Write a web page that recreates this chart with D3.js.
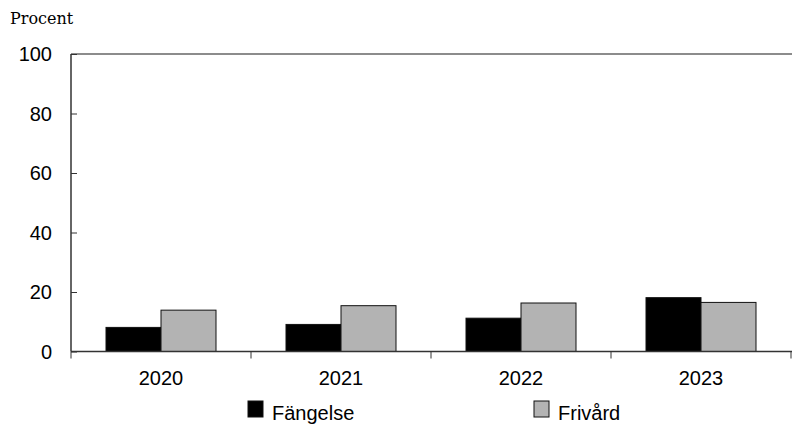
<!DOCTYPE html>
<html>
<head>
<meta charset="utf-8">
<script src="https://cdn.jsdelivr.net/npm/d3@7"></script>
<style>
  body { margin: 0; background: #fff; }
  svg text { font-family: "Liberation Sans", Arial, sans-serif; }
</style>
</head>
<body>
<div id="chart"></div>
<script>
// data
const years = ["2020", "2021", "2022", "2023"];
const fangelse = [8.1, 9.1, 11.2, 18.1];
const frivard = [13.9, 15.4, 16.3, 16.5];
const seriesNames = ["Fängelse", "Frivård"];
const seriesColors = ["#000000", "#b3b3b3"];
const yTicks = [0, 20, 40, 60, 80, 100];

const W = 792, H = 424;
const margin = { top: 54, right: 1, bottom: 72.5, left: 71 };
const width = W - margin.left - margin.right;
const height = H - margin.top - margin.bottom;

const svg = d3.select("#chart").append("svg")
    .attr("width", W)
    .attr("height", H);

const g = svg.append("g")
    .attr("transform", `translate(${margin.left}, ${margin.top})`);

const x0 = d3.scaleBand()
    .domain(years)
    .range([0, width])
    .paddingInner(0)
    .paddingOuter(0);

const x1 = d3.scaleBand()
    .domain(seriesNames)
    .range([x0.bandwidth() / 2 - 55, x0.bandwidth() / 2 + 55]);

const y = d3.scaleLinear()
    .domain([0, 100])
    .range([height, 0]);

// top border line
g.append("line")
    .attr("x1", 0).attr("x2", width + margin.right)
    .attr("y1", 0).attr("y2", 0)
    .attr("stroke", "#666").attr("stroke-width", 1.5);

// bars
const rows = years.map((yr, i) => ({ year: yr, values: [fangelse[i], frivard[i]] }));

const groups = g.selectAll(".grp")
    .data(rows)
    .enter().append("g")
    .attr("transform", d => `translate(${x0(d.year)}, 0)`);

groups.selectAll("rect")
    .data(d => d.values.map((v, j) => ({ name: seriesNames[j], value: v, color: seriesColors[j] })))
    .enter().append("rect")
    .attr("x", d => x1(d.name))
    .attr("y", d => y(d.value))
    .attr("width", x1.bandwidth())
    .attr("height", d => height - y(d.value))
    .attr("fill", d => d.color)
    .attr("stroke", "#111")
    .attr("stroke-width", 1);

// y axis
const yAxis = g.append("g")
    .call(d3.axisRight(y).tickValues(yTicks).tickSize(6).tickFormat(""));
yAxis.select(".domain").attr("stroke", "#333").attr("stroke-width", 1.5)
    .attr("d", `M0,${height}V0`);
yAxis.selectAll(".tick line").attr("stroke", "#333");

g.selectAll(".ylab")
    .data(yTicks)
    .enter().append("text")
    .attr("x", -19)
    .attr("y", d => y(d))
    .attr("dy", "0.36em")
    .attr("text-anchor", "end")
    .style("font-size", "20px")
    .attr("fill", "#000")
    .text(d => d);

// x axis
const xTickPos = years.map(yr => x0(yr)).concat([width]);
const xAxis = g.append("g").attr("transform", `translate(0, ${height})`);
xAxis.append("line")
    .attr("x1", 0).attr("x2", width + margin.right)
    .attr("y1", 0).attr("y2", 0)
    .attr("stroke", "#333").attr("stroke-width", 1.5);
xAxis.selectAll(".xt")
    .data(xTickPos)
    .enter().append("line")
    .attr("x1", d => d).attr("x2", d => d)
    .attr("y1", 0).attr("y2", 7)
    .attr("stroke", "#333");
xAxis.selectAll(".xlab")
    .data(years)
    .enter().append("text")
    .attr("x", d => x0(d) + x0.bandwidth() / 2)
    .attr("y", 33.5)
    .attr("text-anchor", "middle")
    .style("font-size", "20px")
    .attr("fill", "#000")
    .text(d => d);

// y title
svg.append("text")
    .attr("x", 10)
    .attr("y", 24)
    .style("font-family", "'DejaVu Serif', 'Liberation Serif', serif")
    .style("font-size", "16px")
    .attr("fill", "#000")
    .text("Procent");

// legend
const legendX = [248, 534];
const legend = svg.selectAll(".leg")
    .data(seriesNames)
    .enter().append("g")
    .attr("transform", (d, i) => `translate(${legendX[i]}, 401)`);

legend.append("rect")
    .attr("width", 15)
    .attr("height", 16)
    .attr("fill", (d, i) => seriesColors[i])
    .attr("stroke", "#111")
    .attr("stroke-width", 1);

legend.append("text")
    .attr("x", 24)
    .attr("y", 18.5)
    .style("font-size", "20px")
    .attr("fill", "#000")
    .text(d => d);
</script>
</body>
</html>
